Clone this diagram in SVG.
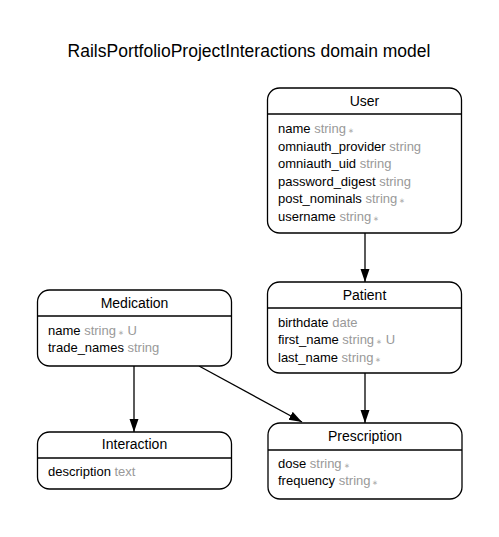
<svg xmlns="http://www.w3.org/2000/svg" width="499" height="537" viewBox="0 0 499 537">
<defs>
<style>
text{font-family:"Liberation Sans",Arial,sans-serif;fill:#000}
.title{font-size:17.5px;text-anchor:middle}
.hd{font-size:14px;text-anchor:middle}
.at{font-size:13px}
.t{fill:#999}
.s{fill:#aaa;font-size:7px}
.box{fill:#fff;stroke:#000;stroke-width:1.3}
.div{stroke:#000;stroke-width:1.3}
.edge{stroke:#000;stroke-width:1.3;fill:none}
</style>
<marker id="arr" markerUnits="userSpaceOnUse" markerWidth="14" markerHeight="10" refX="13" refY="4.5" orient="auto">
<path d="M0,0 L13,4.5 L0,9 z" fill="#000"/>
</marker>
</defs>
<rect width="499" height="537" fill="#fff"/>
<text class="title" x="249" y="57">RailsPortfolioProjectInteractions domain model</text>

<g id="connectors">
<line class="edge" x1="365" y1="233" x2="365" y2="282" marker-end="url(#arr)"/>
<line class="edge" x1="134" y1="366" x2="134" y2="432" marker-end="url(#arr)"/>
<line class="edge" x1="365" y1="373" x2="365" y2="423" marker-end="url(#arr)"/>
<line class="edge" x1="199" y1="366" x2="302" y2="422" marker-end="url(#arr)"/>
</g>

<g id="User">
<rect class="box" x="267.5" y="88" width="194" height="145" rx="12"/>
<line class="div" x1="267.5" y1="114" x2="461.5" y2="114"/>
<text class="hd" x="364.5" y="106">User</text>
<text class="at" x="278" y="133">name<tspan class="t"> string</tspan><tspan class="s"> ∗</tspan></text>
<text class="at" x="278" y="150.5">omniauth_provider<tspan class="t"> string</tspan></text>
<text class="at" x="278" y="168">omniauth_uid<tspan class="t"> string</tspan></text>
<text class="at" x="278" y="185.5">password_digest<tspan class="t"> string</tspan></text>
<text class="at" x="278" y="203">post_nominals<tspan class="t"> string</tspan><tspan class="s"> ∗</tspan></text>
<text class="at" x="278" y="220.5">username<tspan class="t"> string</tspan><tspan class="s"> ∗</tspan></text>
</g>

<g id="Patient">
<rect class="box" x="267.5" y="282" width="194" height="91" rx="12"/>
<line class="div" x1="267.5" y1="308" x2="461.5" y2="308"/>
<text class="hd" x="364.5" y="300">Patient</text>
<text class="at" x="278" y="326.5">birthdate<tspan class="t"> date</tspan></text>
<text class="at" x="278" y="344">first_name<tspan class="t"> string</tspan><tspan class="s"> ∗</tspan><tspan class="t"> U</tspan></text>
<text class="at" x="278" y="361.5">last_name<tspan class="t"> string</tspan><tspan class="s"> ∗</tspan></text>
</g>

<g id="Medication">
<rect class="box" x="37.5" y="290" width="194" height="76" rx="12"/>
<line class="div" x1="37.5" y1="316" x2="231.5" y2="316"/>
<text class="hd" x="134.5" y="308">Medication</text>
<text class="at" x="48" y="334.5">name<tspan class="t"> string</tspan><tspan class="s"> ∗</tspan><tspan class="t"> U</tspan></text>
<text class="at" x="48" y="352">trade_names<tspan class="t"> string</tspan></text>
</g>

<g id="Interaction">
<rect class="box" x="37.5" y="432" width="194" height="57" rx="12"/>
<line class="div" x1="37.5" y1="458" x2="231.5" y2="458"/>
<text class="hd" x="134.5" y="449">Interaction</text>
<text class="at" x="48" y="475.5">description<tspan class="t"> text</tspan></text>
</g>

<g id="Prescription">
<rect class="box" x="268" y="423" width="194" height="76" rx="12"/>
<line class="div" x1="268" y1="450" x2="462" y2="450"/>
<text class="hd" x="365" y="441">Prescription</text>
<text class="at" x="278" y="467.5">dose<tspan class="t"> string</tspan><tspan class="s"> ∗</tspan></text>
<text class="at" x="278" y="485">frequency<tspan class="t"> string</tspan><tspan class="s"> ∗</tspan></text>
</g>
</svg>
